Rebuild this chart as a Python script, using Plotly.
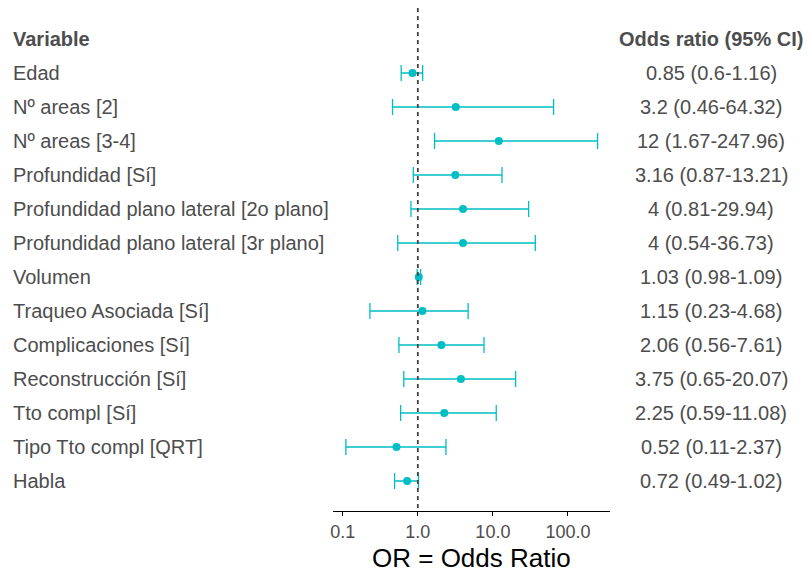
import plotly.graph_objects as go

# Forest plot: odds ratios with 95% confidence intervals
variables = [
    "Edad",
    "Nº areas [2]",
    "Nº areas [3-4]",
    "Profundidad [Sí]",
    "Profundidad plano lateral [2o plano]",
    "Profundidad plano lateral [3r plano]",
    "Volumen",
    "Traqueo Asociada [Sí]",
    "Complicaciones [Sí]",
    "Reconstrucción [Sí]",
    "Tto compl [Sí]",
    "Tipo Tto compl [QRT]",
    "Habla",
]
odds_ratio = [0.85, 3.2, 12, 3.16, 4, 4, 1.03, 1.15, 2.06, 3.75, 2.25, 0.52, 0.72]
ci_low = [0.6, 0.46, 1.67, 0.87, 0.81, 0.54, 0.98, 0.23, 0.56, 0.65, 0.59, 0.11, 0.49]
ci_high = [1.16, 64.32, 247.96, 13.21, 29.94, 36.73, 1.09, 4.68, 7.61, 20.07, 11.08, 2.37, 1.02]

tick_vals = [0.1, 1, 10, 100]
tick_text = ["0.1", "1.0", "10.0", "100.0"]

W, H = 811, 572
PLOT_L, PLOT_R, PLOT_B = 333, 610, 511
ROW0, ROW_STEP = 73, 34
PLOT_W = PLOT_R - PLOT_L

rows = list(range(len(variables)))
y_top = (0 - ROW0) / ROW_STEP
y_bot = (PLOT_B - ROW0) / ROW_STEP


def px_to_paper_x(px):
    return (px - PLOT_L) / PLOT_W


TEAL = "#00BFC4"
TEXT = "#4D4D4D"
FONT = "Liberation Sans, Arial, sans-serif"
LABEL_X = px_to_paper_x(11)
OR_X = px_to_paper_x(711)

fig = go.Figure()

fig.add_trace(go.Scatter(
    x=odds_ratio,
    y=rows,
    mode="markers",
    marker=dict(color=TEAL, size=8),
    error_x=dict(
        type="data",
        symmetric=False,
        array=[h - o for h, o in zip(ci_high, odds_ratio)],
        arrayminus=[o - l for o, l in zip(odds_ratio, ci_low)],
        color=TEAL,
        thickness=1.3,
        width=8,
    ),
    showlegend=False,
    hoverinfo="skip",
))

# Reference line at OR = 1
fig.add_trace(go.Scatter(
    x=[1, 1],
    y=[(8 - ROW0) / ROW_STEP, y_bot],
    mode="lines",
    line=dict(color="#444444", width=1.8, dash="4px,4px"),
    showlegend=False,
    hoverinfo="skip",
))

annotations = []
# Column headers
annotations.append(dict(x=LABEL_X, y=-1, xref="paper", yref="y", text="<b>Variable</b>",
                        xanchor="left", yanchor="middle", showarrow=False,
                        font=dict(family=FONT, size=20, color=TEXT)))
annotations.append(dict(x=OR_X, y=-1, xref="paper", yref="y", text="<b>Odds ratio (95% CI)</b>",
                        xanchor="center", yanchor="middle", showarrow=False,
                        font=dict(family=FONT, size=20, color=TEXT)))

for i, (name, o, lo, hi) in enumerate(zip(variables, odds_ratio, ci_low, ci_high)):
    annotations.append(dict(x=LABEL_X, y=i, xref="paper", yref="y", text=name,
                            xanchor="left", yanchor="middle", showarrow=False,
                            font=dict(family=FONT, size=20, color=TEXT)))
    annotations.append(dict(x=OR_X, y=i, xref="paper", yref="y",
                            text=f"{o:g} ({lo:g}-{hi:g})",
                            xanchor="center", yanchor="middle", showarrow=False,
                            font=dict(family=FONT, size=20, color=TEXT)))

# Axis title
annotations.append(dict(x=0.5, y=(PLOT_B - 558) / PLOT_B,
                        xref="paper", yref="paper", text="OR = Odds Ratio",
                        xanchor="center", yanchor="middle", showarrow=False,
                        font=dict(family=FONT, size=26, color="black")))

fig.update_layout(
    width=W, height=H,
    margin=dict(l=PLOT_L, r=W - PLOT_R, t=0, b=H - PLOT_B, pad=0),
    paper_bgcolor="white",
    plot_bgcolor="white",
    annotations=annotations,
    xaxis=dict(
        type="log",
        range=[-1.13, 2.56],
        tickvals=tick_vals,
        ticktext=tick_text,
        showgrid=False,
        zeroline=False,
        showline=True,
        linecolor="black",
        linewidth=1.2,
        ticks="outside",
        ticklen=4,
        tickcolor="black",
        tickfont=dict(family=FONT, size=18, color=TEXT),
    ),
    yaxis=dict(
        range=[y_bot, y_top],
        showgrid=False,
        zeroline=False,
        showline=False,
        showticklabels=False,
        ticks="",
    ),
)

fig.write_html("out.html")
